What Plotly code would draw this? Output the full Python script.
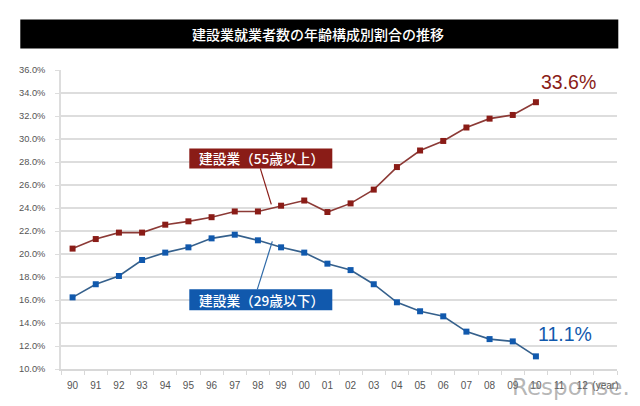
import plotly.graph_objects as go

years = ["90", "91", "92", "93", "94", "95", "96", "97", "98", "99", "00", "01",
         "02", "03", "04", "05", "06", "07", "08", "09", "10", "11", "12", "(year)"]
over_55 = [20.47, 21.3, 21.86, 21.86, 22.55, 22.84, 23.2, 23.7, 23.7, 24.2, 24.65,
           23.65, 24.4, 25.6, 27.56, 29.0, 29.83, 31.0, 31.77, 32.09, 33.2]
under_29 = [16.23, 17.37, 18.09, 19.48, 20.12, 20.58, 21.36, 21.68, 21.19, 20.58, 20.12,
            19.16, 18.6, 17.37, 15.8, 15.02, 14.58, 13.25, 12.6, 12.4, 11.1]
y_ticks = [10, 12, 14, 16, 18, 20, 22, 24, 26, 28, 30, 32, 34, 36]
y_labels = [f"{v:.1f}%" for v in y_ticks]

W, H = 640, 406
LEFT, RIGHT, TOP, BOTTOM = 60.7, 616.7, 69.5, 368.7
RED = "#8a1c17"
BLUE = "#1159ad"
JP = "Noto Sans CJK JP"
LATIN = "Liberation Sans"


# paper coordinates run over the plot area, so convert from image pixels
def px(x):
    return (x - LEFT) / (RIGHT - LEFT)


def py(y):
    return (BOTTOM - y) / (BOTTOM - TOP)


fig = go.Figure()
fig.add_trace(go.Scatter(x=years[:len(over_55)], y=over_55, mode="lines+markers",
                         line=dict(color="#8c3a36", width=1.6),
                         marker=dict(symbol="square", size=6, color=RED)))
fig.add_trace(go.Scatter(x=years[:len(under_29)], y=under_29, mode="lines+markers",
                         line=dict(color="#35608c", width=1.6),
                         marker=dict(symbol="square", size=6, color=BLUE)))


def paper_rect(x0, y0, x1, y1, color):
    fig.add_shape(type="rect", xref="paper", yref="paper", x0=px(x0), x1=px(x1),
                  y0=py(y1), y1=py(y0), fillcolor=color, line_width=0, layer="above")


def paper_line(x0, y0, x1, y1, color):
    fig.add_shape(type="line", xref="paper", yref="paper", x0=px(x0), x1=px(x1),
                  y0=py(y0), y1=py(y1), line=dict(color=color, width=1.2), layer="above")


def label(x, y, text, size, color, font=JP, weight=None):
    fig.add_annotation(xref="paper", yref="paper", x=px(x), y=py(y), text=text,
                       showarrow=False, xanchor="center", yanchor="middle",
                       font=dict(family=font, size=size, color=color, weight=weight))


# title bar, callouts and leaders
paper_rect(20, 19, 618, 48, "#000000")
label(318, 33, "建設業就業者数の年齢構成別割合の推移", 14, "#ffffff", weight=500)

paper_line(260, 168, 271, 204, RED)
paper_rect(189, 148, 332, 168, RED)
label(261, 158, "建設業（55歳以上）", 13.7, "#ffffff", weight=500)

paper_line(257, 289, 272, 241, "#2f6aa8")
paper_rect(189, 289, 332, 310, BLUE)
label(261, 299.5, "建設業（29歳以下）", 13.7, "#ffffff", weight=500)

label(568, 81.5, "33.6%", 19.5, RED, LATIN)
label(564.5, 333.5, "11.1%", 19.5, BLUE, LATIN)
label(571, 387, "Response.", 23, "rgba(120,120,120,0.55)", "DejaVu Sans")

fig.update_xaxes(type="category", categoryorder="array", categoryarray=years,
                 tickmode="array", tickvals=years, ticktext=years, tickangle=0,
                 range=[-0.5, 23.5], tickson="boundaries", ticks="outside", ticklen=4,
                 tickcolor="#d8d8d8", showgrid=False, showline=True,
                 linecolor="#d8d8d8", linewidth=1.5, ticklabelstandoff=6,
                 tickfont=dict(family=LATIN, size=10, color="#555555"))
fig.update_yaxes(range=[10, 36], tickmode="array", tickvals=y_ticks, ticktext=y_labels,
                 ticks="outside", ticklen=4, tickcolor="#dddddd", showgrid=True,
                 gridcolor="#dddddd", gridwidth=1.5, showline=True, linecolor="#dddddd",
                 linewidth=1.5, zeroline=False, ticklabelstandoff=8,
                 tickfont=dict(family=LATIN, size=9.3, color="#555555"))
fig.update_layout(width=W, height=H, showlegend=False, paper_bgcolor="#ffffff",
                  plot_bgcolor="#ffffff",
                  margin=dict(l=LEFT, r=W - RIGHT, t=TOP, b=H - BOTTOM, autoexpand=False))

fig.write_html("out.html", config={"displayModeBar": False},
               post_script="document.body.style.margin='0';")
